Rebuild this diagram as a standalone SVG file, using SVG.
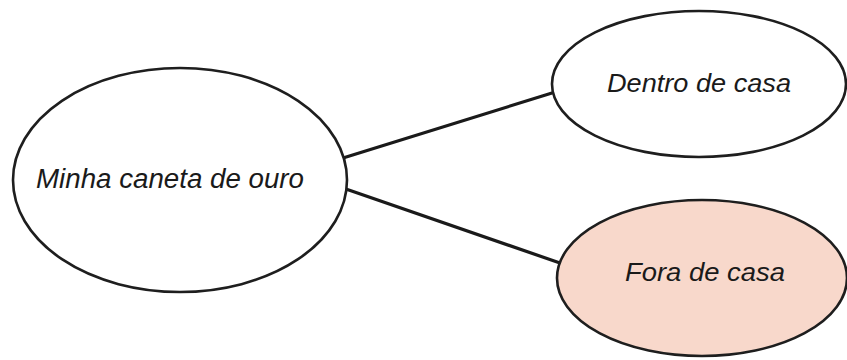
<svg xmlns="http://www.w3.org/2000/svg" width="847" height="360" viewBox="0 0 847 360">
  <style>
    .node { stroke: #1e1e1e; stroke-width: 2.6; }
    .plain { fill: #ffffff; }
    .peach { fill: #f8d8cb; }
    .label { font-family: "Liberation Sans", Arial, sans-serif; font-style: italic; fill: #1a1a1a; text-anchor: middle; }
    .edge { stroke: #1a1a1a; stroke-width: 3.2; fill: none; stroke-linecap: round; }
  </style>
  <rect width="847" height="360" fill="#ffffff"/>

  <!-- connectors -->
  <g id="connectors">
    <line class="edge" x1="343" y1="158" x2="552" y2="93"/>
    <line class="edge" x1="343" y1="188" x2="560" y2="263"/>
  </g>

  <!-- central topic -->
  <g id="node-caneta">
    <ellipse class="node plain" cx="180" cy="180" rx="167" ry="112"/>
    <text class="label" x="170" y="188" font-size="27" textLength="268" lengthAdjust="spacingAndGlyphs">Minha caneta de ouro</text>
  </g>

  <!-- inside the house -->
  <g id="node-dentro">
    <ellipse class="node plain" cx="699" cy="84" rx="147" ry="73"/>
    <text class="label" x="699" y="92" font-size="25" textLength="184" lengthAdjust="spacingAndGlyphs">Dentro de casa</text>
  </g>

  <!-- outside the house -->
  <g id="node-fora">
    <ellipse class="node peach" cx="702" cy="278" rx="145" ry="78"/>
    <text class="label" x="705" y="281" font-size="25" textLength="160" lengthAdjust="spacingAndGlyphs">Fora de casa</text>
  </g>
</svg>
